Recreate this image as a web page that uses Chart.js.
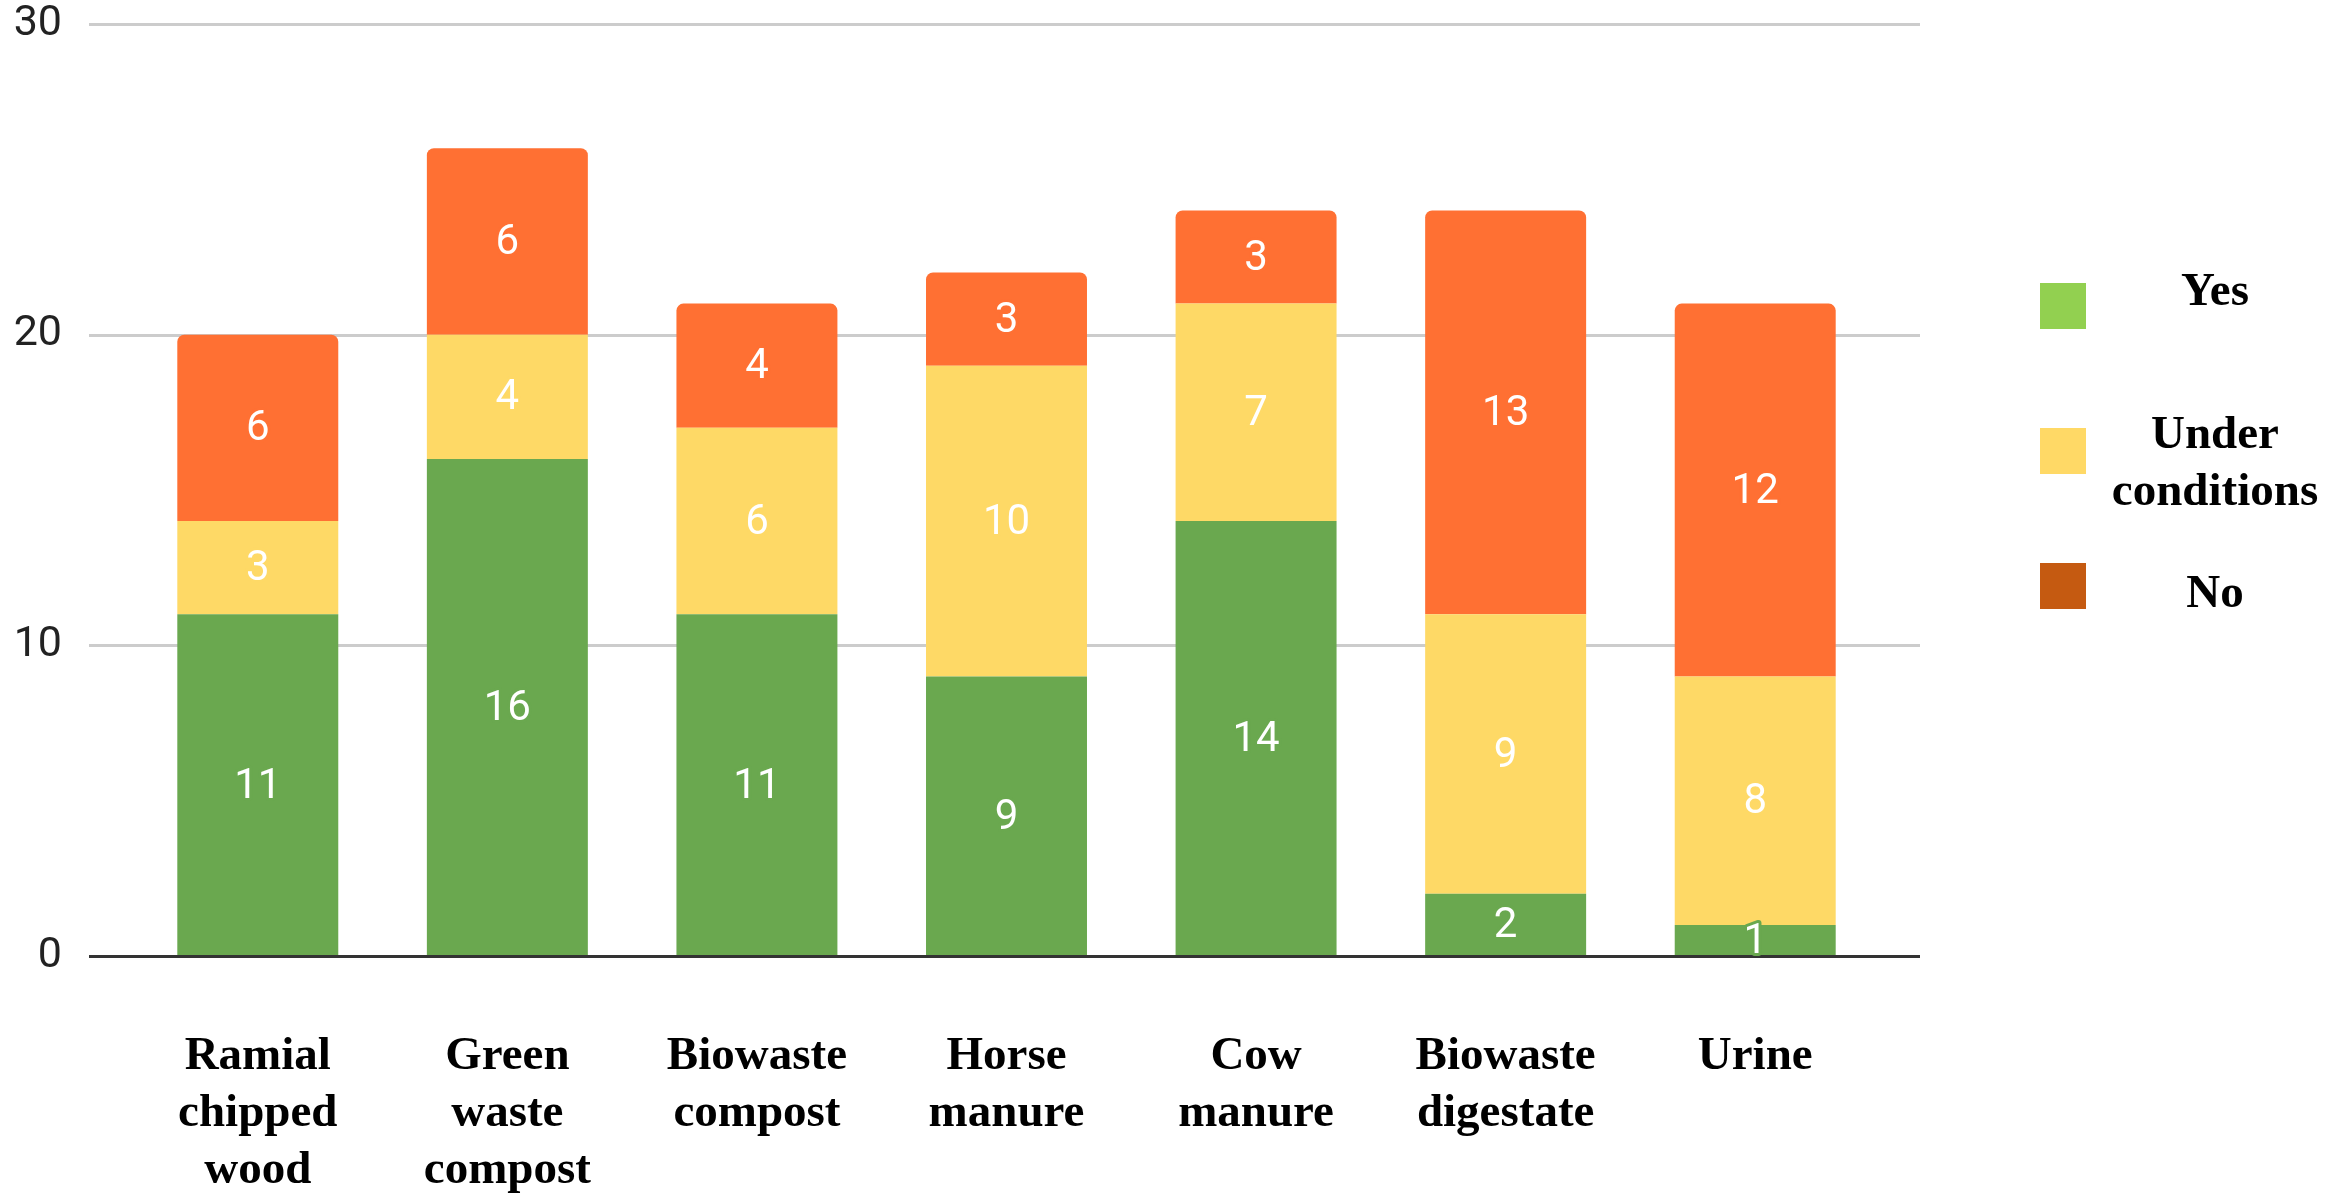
<!DOCTYPE html>
<html>
<head>
<meta charset="utf-8">
<script src="https://cdn.jsdelivr.net/npm/chart.js@4.4.1/dist/chart.umd.min.js"></script>
<style>
  html, body { margin: 0; padding: 0; background: #fff; }
  canvas { display: block; }
</style>
</head>
<body>
<canvas id="chart" width="2349" height="1193"></canvas>
<script>
// data
const categories = [
  ['Ramial', 'chipped', 'wood'],
  ['Green', 'waste', 'compost'],
  ['Biowaste', 'compost'],
  ['Horse', 'manure'],
  ['Cow', 'manure'],
  ['Biowaste', 'digestate'],
  ['Urine'],
];
const seriesNames = ['Yes', 'Under conditions', 'No'];
const yesValues = [11, 16, 11, 9, 14, 2, 1];
const underValues = [3, 4, 6, 10, 7, 9, 8];
const noValues = [6, 6, 4, 3, 3, 13, 12];
const yTicks = [0, 10, 20, 30];

// colours (bars and legend swatches differ in the original)
const barColors = ['#6aa84f', '#fed966', '#ff7033'];
const legendColors = ['#92d050', '#ffd966', '#c55a11'];

const serif = '"Liberation Serif", "Times New Roman", serif';

/**
 * Grid lines run past the plot on both sides, the zero line is dark.
 */
const gridPlugin = {
  id: 'wideGrid',
  beforeDatasetsDraw(chart) {
    const { ctx, chartArea, scales } = chart;
    ctx.save();
    ctx.lineWidth = 3;
    ctx.strokeStyle = '#cccccc';
    yTicks.forEach((v) => {
      if (v === 0) return;
      const y = Math.round(scales.y.getPixelForValue(v)) + 0.5;
      ctx.beginPath();
      ctx.moveTo(chartArea.left - 44, y);
      ctx.lineTo(chartArea.right + 40, y);
      ctx.stroke();
    });
    ctx.restore();
  },
  afterDatasetsDraw(chart) {
    const { ctx, chartArea, scales } = chart;
    ctx.save();
    ctx.lineWidth = 3;
    ctx.strokeStyle = '#333333';
    const y = Math.round(scales.y.getPixelForValue(0)) + 0.5;
    ctx.beginPath();
    ctx.moveTo(chartArea.left - 44, y);
    ctx.lineTo(chartArea.right + 40, y);
    ctx.stroke();

    // value labels in the middle of each segment
    ctx.font = '42px Roboto, sans-serif';
    ctx.textAlign = 'center';
    ctx.textBaseline = 'middle';
    ctx.lineJoin = 'round';
    chart.data.datasets.forEach((ds, i) => {
      const meta = chart.getDatasetMeta(i);
      meta.data.forEach((bar, j) => {
        const { x, y: top, base } = bar.getProps(['x', 'y', 'base'], true);
        const cy = (top + base) / 2 + 2;
        ctx.lineWidth = 6;
        ctx.strokeStyle = barColors[i];
        ctx.strokeText(String(ds.data[j]), x, cy);
        ctx.fillStyle = '#ffffff';
        ctx.fillText(String(ds.data[j]), x, cy);
      });
    });
    ctx.restore();
  },
};

/**
 * Legend on the right: swatch, then centred bold serif text.
 */
const legendTextY = [305, 448, 607];
const legendBoxY = [283, 428, 563];
const legendPlugin = {
  id: 'sideLegend',
  afterDraw(chart) {
    const { ctx } = chart;
    ctx.save();
    ctx.font = 'bold 47px ' + serif;
    ctx.textAlign = 'center';
    ctx.textBaseline = 'alphabetic';
    seriesNames.forEach((name, i) => {
      ctx.fillStyle = legendColors[i];
      ctx.fillRect(2040, legendBoxY[i], 46, 46);
      ctx.fillStyle = '#000000';
      name.split(' ').forEach((line, k) => {
        ctx.fillText(line, 2215, legendTextY[i] + k * 57);
      });
    });
    ctx.restore();
  },
};

new Chart(document.getElementById('chart'), {
  type: 'bar',
  data: {
    labels: categories,
    datasets: [
      { label: seriesNames[0], data: yesValues, backgroundColor: barColors[0] },
      { label: seriesNames[1], data: underValues, backgroundColor: barColors[1] },
      {
        label: seriesNames[2],
        data: noValues,
        backgroundColor: barColors[2],
        borderRadius: { topLeft: 7, topRight: 7, bottomLeft: 0, bottomRight: 0 },
        borderSkipped: false,
      },
    ],
  },
  options: {
    responsive: false,
    devicePixelRatio: 1,
    animation: false,
    layout: { padding: { top: 24, right: 469, bottom: 0, left: 0 } },
    datasets: {
      bar: { barPercentage: 0.645, categoryPercentage: 1, borderWidth: 0 },
    },
    plugins: {
      legend: { display: false },
      tooltip: { enabled: false },
    },
    scales: {
      x: {
        stacked: true,
        grid: { display: false },
        border: { display: false },
        ticks: {
          color: '#000000',
          font: { family: serif, size: 47, weight: 'bold', lineHeight: 1.213 },
          padding: 64,
          maxRotation: 0,
          autoSkip: false,
        },
        afterFit: (scale) => { scale.height = 237; },
      },
      y: {
        stacked: true,
        min: 0,
        max: 30,
        grid: { display: false },
        border: { display: false },
        ticks: {
          stepSize: 10,
          color: '#222222',
          font: { family: 'Roboto, sans-serif', size: 43, lineHeight: 1 },
          padding: 63,
        },
        afterFit: (scale) => {
          // keep the label padding from pushing the plot down
          scale.width = 133;
          scale.paddingTop = 0;
          scale.paddingBottom = 0;
        },
      },
    },
  },
  plugins: [gridPlugin, legendPlugin],
});
</script>
</body>
</html>
